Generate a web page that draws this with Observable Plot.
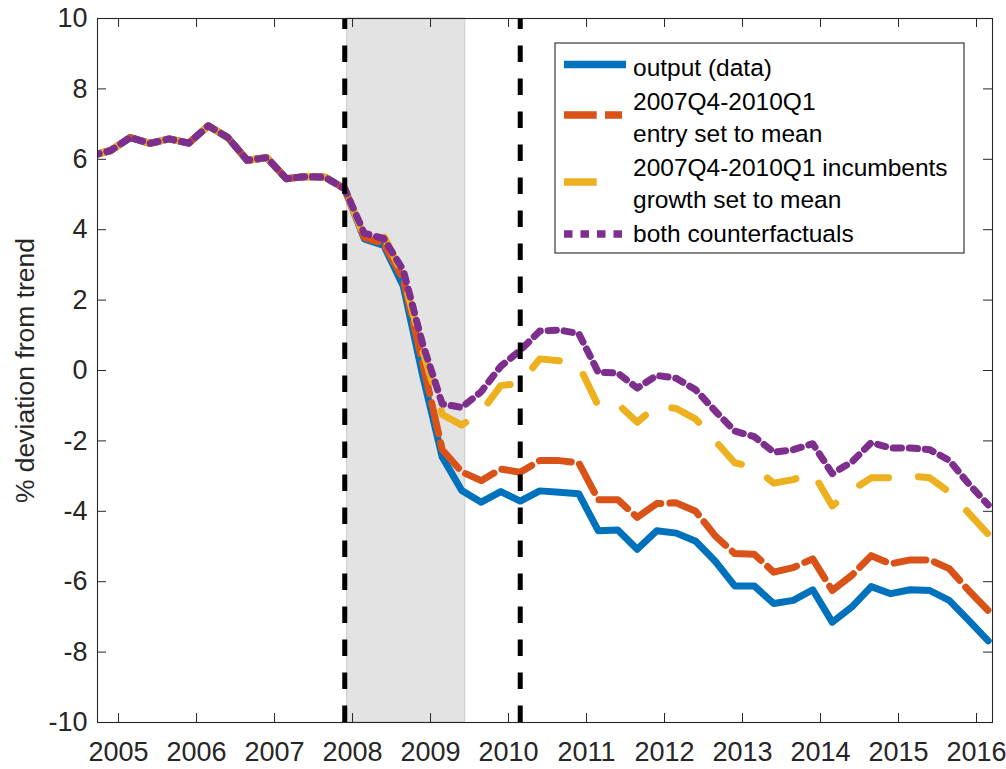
<!DOCTYPE html>
<html>
<head>
<meta charset="utf-8">
<script src="https://cdn.jsdelivr.net/npm/d3@7"></script>
<script src="https://cdn.jsdelivr.net/npm/@observablehq/plot@0.6"></script>
<style>
  html, body { margin: 0; padding: 0; background: #fff; }
  #wrap { position: relative; width: 1006px; height: 769px; }
  #legend { position: absolute; left: 0; top: 0; pointer-events: none; }
</style>
</head>
<body>
<div id="wrap"></div>
<script>
// ---------- DATA ----------
// Quarters 2004Q3 ... 2016Q1 (first one lies just left of the visible axis and is clipped)
const quarters = d3.range(47).map(i => {
  const n = 2004 * 4 + 2 + i;
  return `${Math.floor(n / 4)}Q${(n % 4) + 1}`;
});

const outputData = [
  6.10, 6.25, 6.62, 6.45, 6.58, 6.46, 6.95, 6.62, 5.97, 6.05, 5.45, 5.51, 5.49, 5.16,
  3.74, 3.55, 2.40, -0.15, -2.46, -3.41, -3.74, -3.44, -3.71, -3.42, -3.46, -3.50,
  -4.55, -4.53, -5.08, -4.55, -4.62, -4.85, -5.42, -6.12, -6.12, -6.62, -6.53,
  -6.23, -7.15, -6.72, -6.14, -6.34, -6.23, -6.25, -6.53, -7.10, -7.68
];
const entryMean = [
  6.10, 6.25, 6.62, 6.45, 6.58, 6.46, 6.95, 6.62, 5.97, 6.05, 5.45, 5.51, 5.49, 5.16,
  3.78, 3.60, 2.60, 0.20, -2.25, -2.88, -3.13, -2.80, -2.89, -2.56, -2.56, -2.62,
  -3.67, -3.67, -4.17, -3.78, -3.76, -4.00, -4.70, -5.20, -5.22, -5.73, -5.60,
  -5.35, -6.25, -5.82, -5.26, -5.49, -5.38, -5.38, -5.63, -6.25, -6.82
];
const incumbentsMean = [
  6.10, 6.25, 6.62, 6.45, 6.58, 6.46, 6.95, 6.62, 5.97, 6.05, 5.45, 5.51, 5.49, 5.16,
  3.80, 3.83, 2.70, 0.55, -1.25, -1.55, -1.18, -0.43, -0.36, 0.33, 0.28, 0.15,
  -1.00, -0.95, -1.47, -1.00, -1.08, -1.38, -2.00, -2.62, -2.75, -3.20, -3.10,
  -2.90, -3.85, -3.40, -3.05, -3.05, -3.00, -3.05, -3.45, -4.05, -4.65
];
const bothCounterfactuals = [
  6.10, 6.25, 6.62, 6.45, 6.58, 6.46, 6.95, 6.62, 5.97, 6.05, 5.45, 5.51, 5.49, 5.16,
  3.90, 3.75, 2.85, 0.75, -0.95, -1.05, -0.60, 0.12, 0.57, 1.12, 1.15, 1.05,
  -0.05, -0.07, -0.50, -0.14, -0.22, -0.55, -1.15, -1.72, -1.88, -2.32, -2.25,
  -2.08, -2.93, -2.60, -2.05, -2.20, -2.20, -2.25, -2.55, -3.22, -3.82
];

const seriesNames = [
  "output (data)",
  "2007Q4-2010Q1 entry set to mean",
  "2007Q4-2010Q1 incumbents growth set to mean",
  "both counterfactuals"
];
const legendLabels = [
  ["output (data)"],
  ["2007Q4-2010Q1", "entry set to mean"],
  ["2007Q4-2010Q1 incumbents", "growth set to mean"],
  ["both counterfactuals"]
];
const seriesValues = [outputData, entryMean, incumbentsMean, bothCounterfactuals];

const xTicks = [2005, 2006, 2007, 2008, 2009, 2010, 2011, 2012, 2013, 2014, 2015, 2016];
const yTicks = [-10, -8, -6, -4, -2, 0, 2, 4, 6, 8, 10];
const eventQuarters = ["2007Q4", "2010Q1"];
const recession = [{start: 2007.93, end: 2009.445}];   // Dec 2007 - Jun 2009
const yLabel = "% deviation from trend";

// ---------- STYLES ----------
const colors = ["#0072BD", "#D95319", "#EDB120", "#7E2F8E"];
const dashes = [null, "32,9", "31,30", "8.3,7.8"];
const legendDashes = [null, "32.7,8.3", "32.7,40", "8.5,8"];
const font = "'Liberation Sans', Arial, Helvetica, sans-serif";
const axisColor = "#262626";

const quarterTime = q => +q.slice(0, 4) + (+q[5] - 1) / 4 + 0.15;

const rows = seriesNames.map((name, s) =>
  quarters.map((q, i) => ({series: name, quarter: q, t: quarterTime(q), value: seriesValues[s][i]}))
);

const W = 1006, H = 769;
const mL = 97, mR = 14, mT = 18, mB = 47;
const frameW = W - mL - mR, frameH = H - mT - mB;
const tickLen = 9;

const chart = Plot.plot({
  width: W, height: H,
  marginLeft: mL, marginRight: mR, marginTop: mT, marginBottom: mB,
  x: {domain: [2004.73, 2016.205], axis: null},
  y: {domain: [-10, 10], axis: null},
  style: {fontFamily: font, background: "white", color: axisColor, overflow: "visible"},
  marks: [
    Plot.rect(recession, {x1: "start", x2: "end", fill: "#e3e3e3", stroke: "#cdcdcd", strokeWidth: 1}),
    ...rows.map((data, s) => Plot.line(data, {
      x: "t", y: "value", stroke: colors[s], strokeWidth: 7,
      strokeDasharray: dashes[s] ?? undefined, strokeLinejoin: "round", clip: true
    })),
    Plot.ruleX(eventQuarters.map(quarterTime), {x: d => d, y1: -10, y2: 10, stroke: "black", strokeWidth: 5, strokeDasharray: "16.5,16.5"}),
    Plot.frame({stroke: axisColor, strokeWidth: 1.1}),
    Plot.tickX(xTicks, {x: d => d, insetTop: frameH - tickLen, stroke: axisColor}),
    Plot.tickX(xTicks, {x: d => d, insetBottom: frameH - tickLen, stroke: axisColor}),
    Plot.tickY(yTicks, {y: d => d, insetRight: frameW - tickLen, stroke: axisColor}),
    Plot.tickY(yTicks, {y: d => d, insetLeft: frameW - tickLen, stroke: axisColor}),
    Plot.text(xTicks, {x: d => d, text: d => String(d), frameAnchor: "bottom", lineAnchor: "top",
      textAnchor: "middle", dy: 19, fontSize: 27, fill: axisColor}),
    Plot.text(yTicks, {y: d => d, text: d => String(d), frameAnchor: "left", lineAnchor: "middle",
      textAnchor: "end", dx: -10, fontSize: 27, fill: axisColor}),
    Plot.text([yLabel], {frameAnchor: "left", textAnchor: "middle", lineAnchor: "middle",
      dx: -72, rotate: -90, fontSize: 26.5, fill: axisColor})
  ]
});

const wrap = document.getElementById("wrap");
wrap.appendChild(chart);

// ---------- LEGEND (inside axes, top right) ----------
const svg = d3.select(wrap).append("svg")
  .attr("id", "legend").attr("width", W).attr("height", H);
const box = {x: 555, y: 43, w: 409, h: 210};
svg.append("rect").attr("x", box.x).attr("y", box.y).attr("width", box.w).attr("height", box.h)
  .attr("fill", "white").attr("stroke", axisColor).attr("stroke-width", 1.1);
const sampleY = [64.5, 115, 182, 234];
const sampleEnd = [626, 622, 626, 622];
const baselines = [[76], [110, 142], [176, 208], [242]];
legendLabels.forEach((lines, s) => {
  svg.append("line").attr("x1", 564).attr("x2", sampleEnd[s])
    .attr("y1", sampleY[s]).attr("y2", sampleY[s])
    .attr("stroke", colors[s]).attr("stroke-width", 7.5)
    .attr("stroke-dasharray", legendDashes[s]);
  lines.forEach((txt, j) => {
    svg.append("text").attr("x", 633).attr("y", baselines[s][j])
      .attr("font-family", font).attr("font-size", 24.5).attr("fill", "black")
      .text(txt);
  });
});
</script>
</body>
</html>
